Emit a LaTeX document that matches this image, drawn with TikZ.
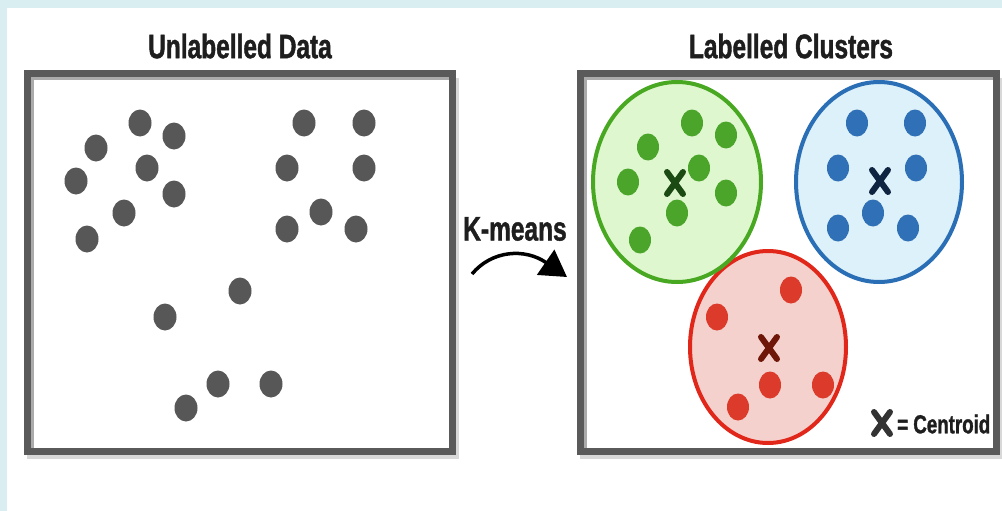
\documentclass[tikz,border=0pt]{standalone}
\usepackage{fontspec}
\newfontfamily\titlefont[FakeStretch=0.72,FakeBold=1.2]{Liberation Sans}
\usetikzlibrary{arrows.meta}
\definecolor{bgblue}{HTML}{D9EEF1}
\definecolor{dotgray}{HTML}{575757}
\definecolor{boxdark}{HTML}{5A5A5A}
\definecolor{boxlight}{HTML}{ABABAB}
\definecolor{boxshadow}{HTML}{D8D8D8}
\definecolor{gfill}{HTML}{DFF7CF}
\definecolor{gline}{HTML}{48A822}
\definecolor{gdot}{HTML}{4AA52A}
\definecolor{gx}{HTML}{1B4A12}
\definecolor{bfill}{HTML}{DCF1F9}
\definecolor{bline}{HTML}{2A6EB6}
\definecolor{bdot}{HTML}{3070B6}
\definecolor{bx}{HTML}{0F2440}
\definecolor{rfill}{HTML}{F5D1CD}
\definecolor{rline}{HTML}{E0271A}
\definecolor{rdot}{HTML}{DC3A2A}
\definecolor{rx}{HTML}{6E1608}
\definecolor{titlecol}{HTML}{1E1E1E}
\definecolor{legx}{HTML}{333333}
\tikzset{
  titletext/.style={font=\titlefont\bfseries\fontsize{34}{34}\selectfont, text=titlecol, inner sep=0pt},
  legendtext/.style={font=\titlefont\bfseries\fontsize{26}{26}\selectfont, text=titlecol, inner sep=0pt, anchor=west},
  datadot/.style={fill=dotgray},
  xmark/.pic={\draw[line width=6pt, line cap=round] (-8,-11) -- (8,11) (8,-11) -- (-8,11);},
  cluster/.style={line width=4pt}
}
\begin{document}
\begin{tikzpicture}[x=1pt,y=-1pt]
\useasboundingbox (0,0) rectangle (1002,511);
\fill[bgblue] (0,0) rectangle (1002,511);
\fill[white] (7,8) rectangle (1002,511);

% boxes
\foreach \l/\r in {24/456, 577/1000} {
  \fill[boxshadow] (\l+3,78) rectangle (\r+3,459);
  \fill[white] (\l,70) rectangle (\r,455);
  \draw[boxlight, line width=3pt] (\l+8.5,448) -- (\l+8.5,78.5) -- (\r-7,78.5);
  \draw[boxdark, line width=7pt] (\l+3.5,73.5) rectangle (\r-3.5,451.5);
}

% titles
\node[titletext] (t1) at (240,46) {Unlabelled Data};
\node[titletext] (t2) at (791,46) {Labelled Clusters};
\node[titletext] (km) at (515,229) {K-means};

% arrow
\coordinate (as) at (472,274);
\coordinate (ae) at (567,277);
\draw[line width=3.5pt, -{Triangle[length=26pt,width=30pt]}] (as) .. controls (492,250) and (525,248) .. (ae);

% unlabelled dots
\foreach \x/\y in {140/123,174/136,96/148,147/168,76/181,174/194,124/213,87/239,
  304/123,364/123,287/168,364/168,321/212,287/229,356/229,
  240/291,165/317,218/384,271/384,186/408}
  \fill[datadot] (\x,\y) ellipse [x radius=11.5pt, y radius=13.5pt];

% clusters
\draw[cluster, draw=rline, fill=rfill] (768,347) ellipse [x radius=78pt, y radius=96pt];
\draw[cluster, draw=gline, fill=gfill] (677,182) ellipse [x radius=84pt, y radius=100pt];
\draw[cluster, draw=bline, fill=bfill] (879,182) ellipse [x radius=83pt, y radius=100pt];

\foreach \x/\y in {692/123,726/135,648/147,699/168,628/182,726/193,677/213,640/240}
  \fill[gdot] (\x,\y) ellipse [x radius=11pt, y radius=13.5pt];
\foreach \x/\y in {857/123,915/123,838/168,916/168,873/213,838/228,908/228}
  \fill[bdot] (\x,\y) ellipse [x radius=11pt, y radius=13.5pt];
\foreach \x/\y in {791/290,717/317,770/385,823/385,738/407}
  \fill[rdot] (\x,\y) ellipse [x radius=11pt, y radius=13.5pt];

\pic[color=gx] at (675,183) {xmark};
\pic[color=bx] at (880,181) {xmark};
\pic[color=rx] at (769,348) {xmark};

% legend
\pic[color=legx] at (882,423) {xmark};
\node[legendtext] (leg) at (897,424) {= Centroid};
\end{tikzpicture}
\end{document}
